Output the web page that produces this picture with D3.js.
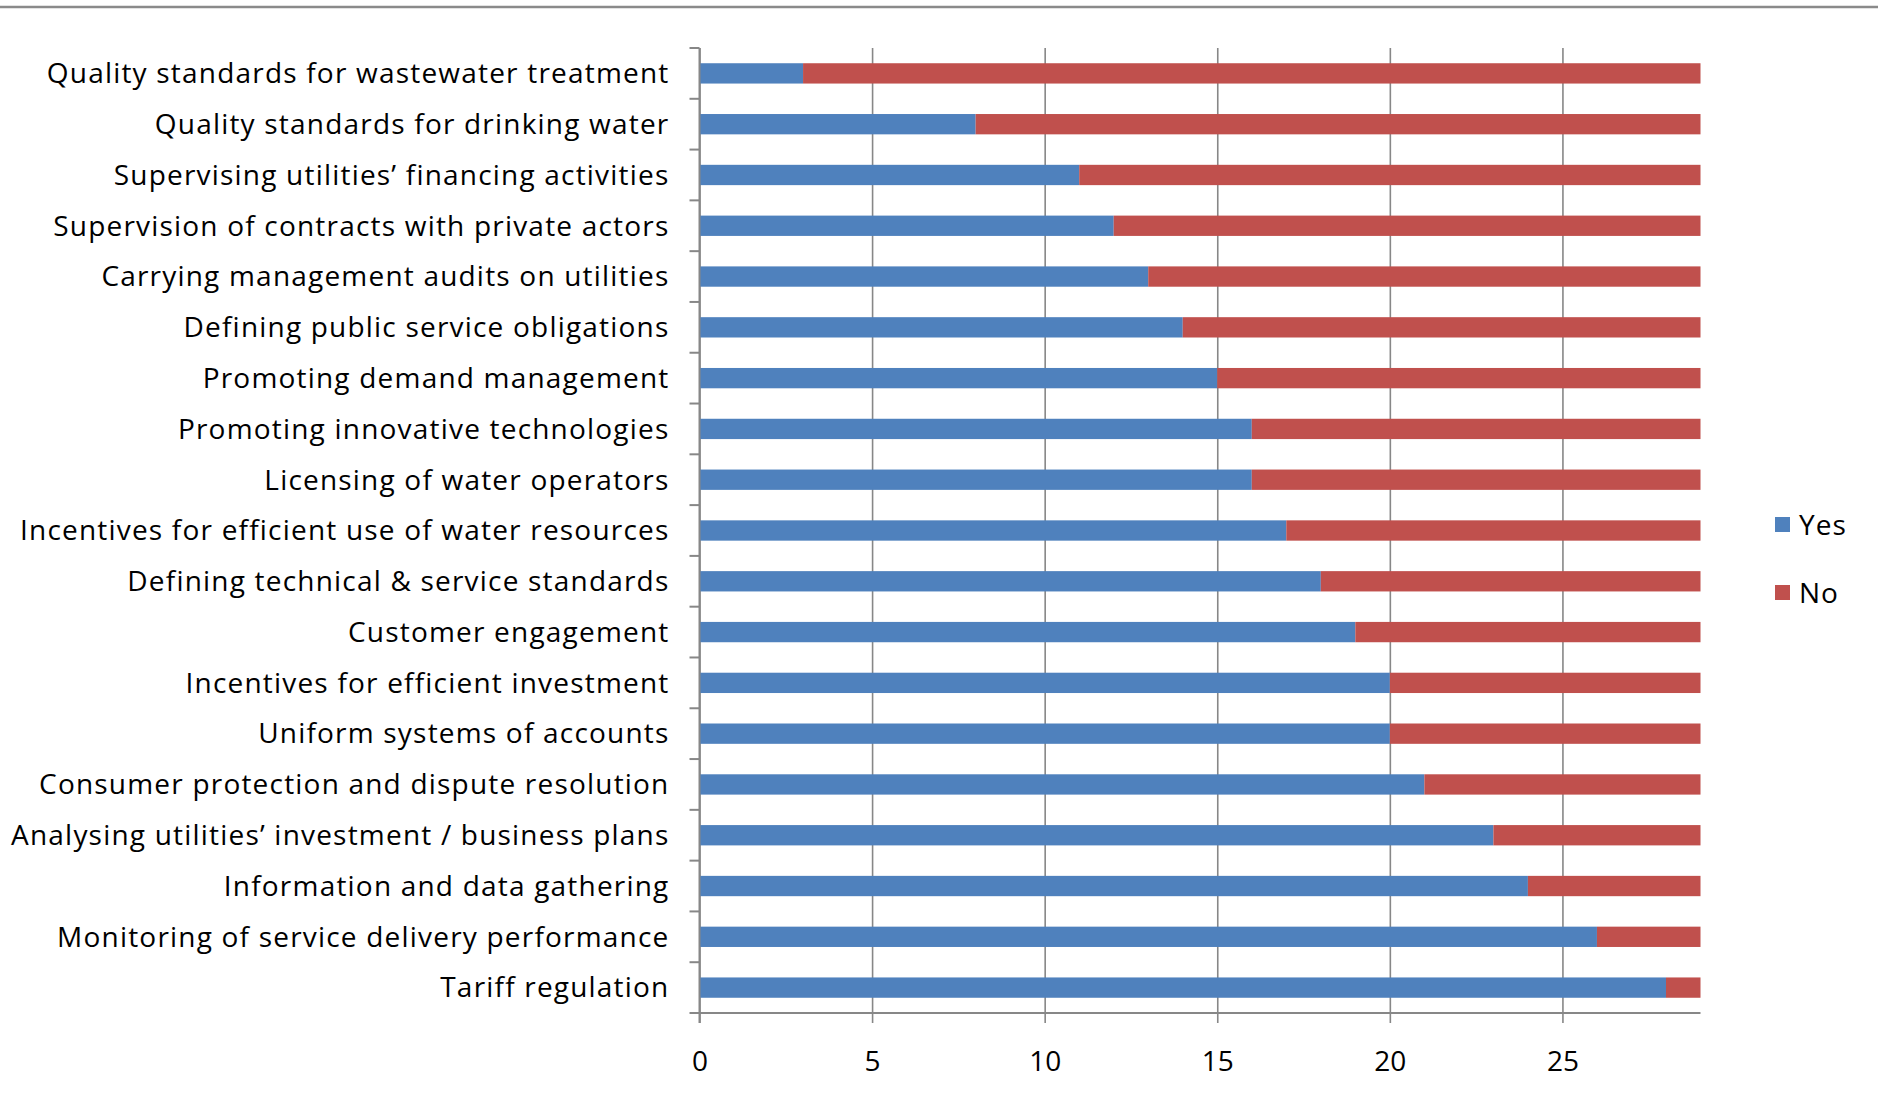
<!DOCTYPE html>
<html>
<head>
<meta charset="utf-8">
<script src="https://cdn.jsdelivr.net/npm/d3@7"></script>
<style>
  body { margin: 0; background: #fff; }
  svg { display: block; }
</style>
</head>
<body>
<svg width="1878" height="1104"></svg>
<script>
const categories = [
    'Quality standards for wastewater treatment',
    'Quality standards for drinking water',
    'Supervising utilities\u2019 financing activities',
    'Supervision of contracts with private actors',
    'Carrying management audits on utilities',
    'Defining public service obligations',
    'Promoting demand management',
    'Promoting innovative technologies',
    'Licensing of water operators',
    'Incentives for efficient use of water resources',
    'Defining technical & service standards',
    'Customer engagement',
    'Incentives for efficient investment',
    'Uniform systems of accounts',
    'Consumer protection and dispute resolution',
    'Analysing utilities\u2019 investment / business plans',
    'Information and data gathering',
    'Monitoring of service delivery performance',
    'Tariff regulation',
];
const yes = [3, 8, 11, 12, 13, 14, 15, 16, 16, 17, 18, 19, 20, 20, 21, 23, 24, 26, 28];
const no  = [26, 21, 18, 17, 16, 15, 14, 13, 13, 12, 11, 10, 9, 9, 8, 6, 5, 3, 1];
const seriesNames = ['Yes', 'No'];
const seriesColors = ['#4f81bd', '#c0504d'];
const xTicks = [0, 5, 10, 15, 20, 25];

const svg = d3.select('svg');
const font = '"Open Sans", sans-serif';

// frame line at the top
svg.append('line')
    .attr('x1', 0).attr('x2', 1878).attr('y1', 7).attr('y2', 7)
    .attr('stroke', '#8a8a8a').attr('stroke-width', 2.5);

const plotL = 699.5, plotR = 1700.5, plotT = 48, plotB = 1013;

const xScale = d3.scaleLinear().domain([0, 29]).range([plotL, plotR]);
const yScale = d3.scaleBand().domain(categories).range([plotT, plotB])
    .paddingInner(0.6).paddingOuter(0.3);

const rows = categories.map((c, i) => ({cat: c, yes: yes[i], no: no[i]}));
const stacked = d3.stack().keys(['yes', 'no'])(rows);

// vertical grid lines
const gX = svg.append('g').attr('transform', `translate(0,${plotB})`)
    .call(d3.axisBottom(xScale).tickValues(xTicks).tickSize(10).tickPadding(28));
gX.select('.domain').remove();
gX.selectAll('.tick line').clone()
    .attr('y1', 0).attr('y2', -(plotB - plotT));
gX.selectAll('line').attr('stroke', '#878787').attr('stroke-width', 1.6);
gX.selectAll('text')
    .attr('font-family', font).attr('font-size', 28).attr('fill', '#000');

// bars
svg.append('g').selectAll('g')
    .data(stacked)
    .join('g')
    .attr('fill', (d, i) => seriesColors[i])
    .selectAll('rect')
    .data(d => d)
    .join('rect')
    .attr('x', d => xScale(d[0]))
    .attr('width', d => xScale(d[1]) - xScale(d[0]))
    .attr('y', d => yScale(d.data.cat))
    .attr('height', yScale.bandwidth());

// axes lines
svg.append('line')
    .attr('x1', plotL - 10).attr('x2', plotR).attr('y1', plotB).attr('y2', plotB)
    .attr('stroke', '#878787').attr('stroke-width', 2);
svg.append('line')
    .attr('x1', plotL).attr('x2', plotL).attr('y1', plotT).attr('y2', plotB + 10)
    .attr('stroke', '#878787').attr('stroke-width', 2);

// category boundary ticks on y axis
const step = yScale.step();
svg.append('g').selectAll('line')
    .data(d3.range(categories.length))
    .join('line')
    .attr('x1', plotL - 10).attr('x2', plotL)
    .attr('y1', i => plotT + i * step).attr('y2', i => plotT + i * step)
    .attr('stroke', '#878787').attr('stroke-width', 2);

// category labels
svg.append('g').selectAll('text')
    .data(categories)
    .join('text')
    .attr('x', plotL - 30)
    .attr('y', d => yScale(d) + yScale.bandwidth() / 2)
    .attr('dy', '0.35em')
    .attr('text-anchor', 'end')
    .attr('font-family', font).attr('font-size', 28).attr('letter-spacing', 1.2)
    .attr('fill', '#000')
    .text(d => d);

// legend
const legend = svg.append('g').selectAll('g')
    .data(seriesNames)
    .join('g')
    .attr('transform', (d, i) => `translate(1775,${517 + i * 68})`);
legend.append('rect')
    .attr('width', 15).attr('height', 15)
    .attr('fill', (d, i) => seriesColors[i]);
legend.append('text')
    .attr('x', 24).attr('y', 8).attr('dy', '0.35em')
    .attr('font-family', font).attr('font-size', 28).attr('letter-spacing', 1)
    .attr('fill', '#000')
    .text(d => d);
</script>
</body>
</html>
